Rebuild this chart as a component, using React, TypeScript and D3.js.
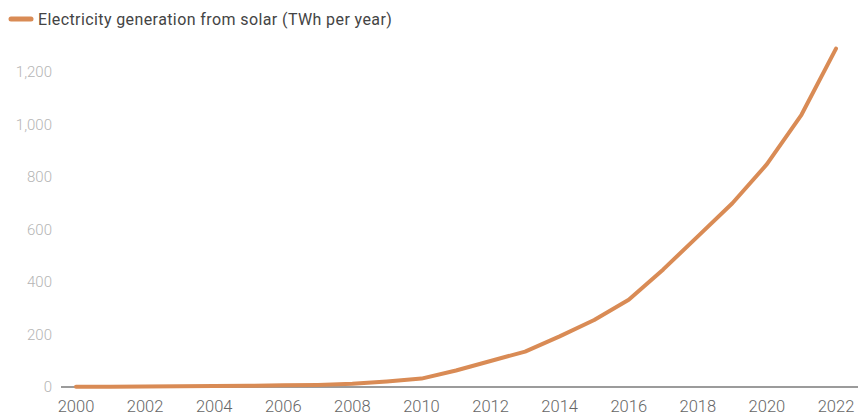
import * as d3 from 'd3';
import * as React from 'react';

const years = [
    2000, 2001, 2002, 2003, 2004, 2005, 2006, 2007, 2008, 2009, 2010,
    2011, 2012, 2013, 2014, 2015, 2016, 2017, 2018, 2019, 2020, 2021, 2022,
];
const solarTwh = [
    1.1, 1.4, 1.9, 2.6, 3.7, 4.9, 6.2, 8.0, 12.5, 21, 32,
    63, 99, 135, 193, 255, 332, 448, 574, 700, 849, 1037, 1289,
];
const yTicks = [0, 200, 400, 600, 800, 1000, 1200];
const xTicks = [2000, 2002, 2004, 2006, 2008, 2010, 2012, 2014, 2016, 2018, 2020, 2022];
const legendLabel = 'Electricity generation from solar (TWh per year)';

const width = 858;
const height = 415;
const lineColor = '#d98b55';
const font = 'Roboto, "Open Sans", sans-serif';

export default function App() {
    const x = d3.scaleLinear().domain([2000, 2022]).range([76, 836]);
    const y = d3.scaleLinear().domain([0, 1200]).range([387, 72]);

    const points = years.map((yr, i) => ({x: yr, y: solarTwh[i]}));
    const line = d3.line<{x: number; y: number}>()
        .x((d) => x(d.x))
        .y((d) => y(d.y));

    const fmt = d3.format(',');

    return (
        <svg width={width} height={height}
            style={{position: 'absolute', left: 0, top: 0, display: 'block', background: '#fff'}}>
            <g className='legend'>
                <line x1={11} x2={31} y1={19} y2={19} stroke={lineColor} strokeWidth={5} strokeLinecap='round' />
                <text x={38} y={25} fontFamily={font} fontSize={16} letterSpacing={0.4} fill='#444'>{legendLabel}</text>
            </g>
            <g className='y-axis'>
                {yTicks.map((t) => (
                    <text key={t} x={52} y={y(t) + 5} textAnchor='end' fontFamily={font} fontWeight={300}
                        fontSize={15} fill='#b5b5b5'>{fmt(t)}</text>
                ))}
            </g>
            <line x1={61} x2={858} y1={y(0)} y2={y(0)} stroke='#7a7a7a' strokeWidth={1.5} />
            <g className='x-axis'>
                {xTicks.map((t) => (
                    <text key={t} x={x(t)} y={412} textAnchor='middle' fontFamily={font} fontWeight={300}
                        fontSize={16.5} fill='#666'>{t}</text>
                ))}
            </g>
            <path d={line(points) || ''} fill='none' stroke={lineColor} strokeWidth={4}
                strokeLinejoin='round' strokeLinecap='round' />
        </svg>
    );
}
